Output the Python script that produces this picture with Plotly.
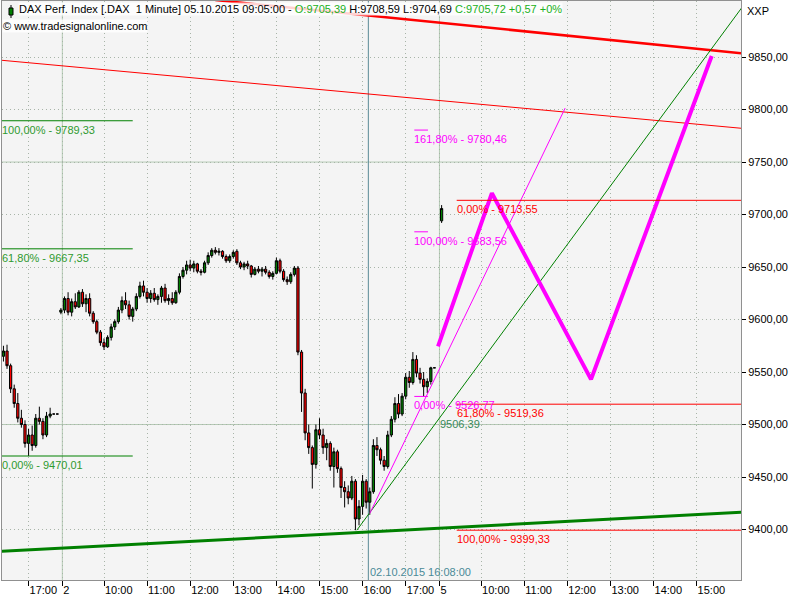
import plotly.graph_objects as go

# ---------------- time axis helpers (compressed trading time) ----------------
DAY_INDEX = {"10-01": 0, "10-02": 1, "10-05": 2}
SESSION_MIN = 525  # 09:00 - 17:45 per session


def tpos(stamp):
    day, hm = stamp.split()
    h, m = map(int, hm.split(":"))
    return DAY_INDEX[day] * SESSION_MIN + (h * 60 + m - 540)


def bar_times(day, start, n, step=5):
    h, m = map(int, start.split(":"))
    base = h * 60 + m
    return [f"{day} {(base + step * i) // 60:02d}:{(base + step * i) % 60:02d}" for i in range(n)]


# ---------------- candle data ----------------
oct1_open = [9565, 9570, 9556, 9534, 9520, 9506, 9500, 9482, 9490, 9480, 9506, 9503, 9490, 9508, 9510, 9510]
oct1_high = [9575, 9576, 9558, 9538, 9530, 9514, 9504, 9496, 9499, 9510, 9517, 9506, 9512, 9516, 9510, 9510]
oct1_low = [9560, 9553, 9530, 9516, 9502, 9497, 9478, 9470.01, 9475, 9478, 9500, 9486, 9488, 9506, 9510, 9510]
oct1_close = [9570, 9556, 9534, 9520, 9506, 9500, 9482, 9490, 9480, 9506, 9503, 9490, 9508, 9510, 9510, 9510]

oct2_open = [9607, 9609, 9620, 9607, 9617, 9612, 9626, 9615, 9620, 9606, 9598, 9588, 9578, 9574, 9583, 9593,
             9598, 9609, 9618, 9614, 9603, 9610, 9622, 9632, 9626, 9620, 9625, 9619, 9622, 9630, 9618, 9620,
             9616, 9626, 9641, 9647, 9652, 9649, 9653, 9646, 9645, 9654, 9661, 9666, 9664, 9665, 9660, 9656,
             9660, 9665, 9654, 9650, 9653, 9651, 9643, 9648, 9646, 9648, 9645, 9641, 9644, 9656, 9646, 9638,
             9636, 9643, 9649, 9569, 9530, 9492, 9478, 9462, 9495, 9490, 9478, 9482, 9460, 9474, 9458, 9440,
             9436, 9430, 9446, 9410, 9422, 9446, 9426, 9436, 9480, 9476, 9466, 9460, 9490, 9505, 9520, 9510,
             9527, 9545, 9540, 9562, 9549, 9543, 9536, 9541, 9554]
oct2_high = [9611, 9622, 9626, 9620, 9625, 9628, 9629, 9624, 9625, 9608, 9600, 9590, 9582, 9585, 9596, 9600,
             9612, 9622, 9626, 9618, 9612, 9625, 9636, 9637, 9630, 9628, 9630, 9624, 9632, 9634, 9624, 9626,
             9628, 9644, 9650, 9656, 9657, 9656, 9654, 9648, 9656, 9664, 9668, 9669, 9668, 9666, 9662, 9662,
             9666, 9667, 9656, 9655, 9656, 9652, 9650, 9651, 9650, 9651, 9647, 9646, 9659, 9658, 9648, 9641,
             9645, 9651, 9651, 9571, 9534, 9500, 9480, 9500, 9506, 9496, 9486, 9484, 9478, 9476, 9460, 9446,
             9442, 9451, 9448, 9428, 9452, 9448, 9440, 9486, 9488, 9478, 9470, 9494, 9508, 9526, 9529, 9530,
             9549, 9551, 9569, 9566, 9554, 9550, 9544, 9555, 9554]
oct2_low = [9605, 9606, 9604, 9603, 9610, 9611, 9612, 9607, 9603, 9596, 9586, 9575, 9571, 9573, 9580, 9590,
            9596, 9606, 9610, 9600, 9598, 9608, 9620, 9622, 9616, 9616, 9617, 9614, 9616, 9616, 9614, 9614,
            9615, 9624, 9639, 9643, 9646, 9645, 9644, 9642, 9644, 9652, 9659, 9662, 9661, 9658, 9654, 9654,
            9658, 9652, 9648, 9647, 9648, 9640, 9642, 9644, 9641, 9643, 9639, 9638, 9643, 9644, 9636, 9633,
            9634, 9641, 9566, 9512, 9485, 9472, 9439, 9458, 9486, 9472, 9466, 9456, 9440, 9454, 9430, 9421,
            9424, 9428, 9399.33, 9404, 9414, 9420, 9414, 9434, 9470, 9462, 9456, 9458, 9488, 9502, 9506, 9508,
            9524, 9535, 9538, 9545, 9539, 9526.77, 9530, 9538, 9554]
oct2_close = [9609, 9620, 9607, 9617, 9612, 9626, 9615, 9620, 9606, 9598, 9588, 9578, 9574, 9583, 9593, 9598,
              9609, 9618, 9614, 9603, 9610, 9622, 9632, 9626, 9620, 9625, 9619, 9622, 9630, 9618, 9620, 9616,
              9626, 9641, 9647, 9652, 9649, 9653, 9646, 9645, 9654, 9661, 9666, 9664, 9665, 9660, 9656, 9660,
              9664, 9654, 9650, 9653, 9651, 9643, 9648, 9646, 9648, 9645, 9641, 9644, 9656, 9646, 9638, 9636,
              9643, 9649, 9569, 9530, 9492, 9478, 9462, 9495, 9490, 9478, 9482, 9460, 9474, 9458, 9440, 9436,
              9430, 9446, 9410, 9422, 9446, 9426, 9436, 9480, 9476, 9466, 9460, 9490, 9505, 9520, 9510, 9527,
              9545, 9540, 9562, 9549, 9543, 9536, 9541, 9554, 9554]

oct5_open = [9694]
oct5_high = [9709]
oct5_low = [9692]
oct5_close = [9705.72]

candle_times = (bar_times("10-01", "16:25", len(oct1_open))
                + bar_times("10-02", "09:00", len(oct2_open))
                + bar_times("10-05", "09:05", len(oct5_open)))
candle_open = oct1_open + oct2_open + oct5_open
candle_high = oct1_high + oct2_high + oct5_high
candle_low = oct1_low + oct2_low + oct5_low
candle_close = oct1_close + oct2_close + oct5_close

# ---------------- drawing tools (trend lines, zigzag, fib levels) ----------------
red_thick_times = ["10-02 12:35", "10-05 16:05"]
red_thick_vals = [9904.3, 9853.5]
red_thin_times = ["10-01 16:20", "10-05 16:05"]
red_thin_vals = [9847.1, 9782.0]
green_thick_times = ["10-01 16:20", "10-05 16:05"]
green_thick_vals = [9379.1, 9416.5]
green_thin_times = ["10-02 15:52", "10-05 16:05"]
green_thin_vals = [9399.33, 9899.0]
magenta_thin_times = ["10-02 16:10", "10-05 11:57"]
magenta_thin_vals = [9415.3, 9801.4]
zigzag_times = ["10-05 09:00", "10-05 10:15", "10-05 12:33", "10-05 15:21"]
zigzag_vals = [9574.5, 9720.4, 9543.0, 9851.0]

green_fib_vals = [9789.33, 9667.35, 9470.01]
green_fib_text = ["100,00% - 9789,33", "61,80% - 9667,35", "0,00% - 9470,01"]
green_fib_span = ["10-01 16:20", "10-02 10:40"]

magenta_fib_vals = [9780.46, 9683.56, 9526.77]
magenta_fib_text = ["161,80% - 9780,46", "100,00% - 9683,56", "0,00% - 9526,77"]
magenta_fib_span = ["10-02 17:12", "10-02 17:31"]

red_fib_vals = [9713.55, 9519.36, 9399.33]
red_fib_text = ["0,00% - 9713,55", "61,80% - 9519,36", "100,00% - 9399,33"]
red_fib_span = ["10-05 09:26", "10-05 16:05"]

trend_value_time = "10-05 09:00"
trend_value = 9506.39
trend_value_text = "9506,39"

cursor_time = "10-02 16:08"
cursor_text = "02.10.2015 16:08:00"

major_levels = [9500, 9750]
day_starts = ["10-02 09:02", "10-05 09:02"]

# ---------------- axes ticks ----------------
x_tick_times = ["10-01 17:00", "10-02 09:02", "10-02 10:00", "10-02 11:00", "10-02 12:00", "10-02 13:00",
                "10-02 14:00", "10-02 15:00", "10-02 16:00", "10-02 17:00", "10-05 09:02", "10-05 10:00",
                "10-05 11:00", "10-05 12:00", "10-05 13:00", "10-05 14:00", "10-05 15:00"]
x_tick_text = ["17:00", "2", "10:00", "11:00", "12:00", "13:00", "14:00", "15:00", "16:00", "17:00", "5",
               "10:00", "11:00", "12:00", "13:00", "14:00", "15:00"]
y_tick_vals = [9400, 9450, 9500, 9550, 9600, 9650, 9700, 9750, 9800, 9850]
y_tick_text = ["9400,00", "9450,00", "9500,00", "9550,00", "9600,00", "9650,00", "9700,00", "9750,00",
               "9800,00", "9850,00"]

FONT = "Liberation Sans, Arial, sans-serif"
GREEN_TXT = "#2f9a2f"
MAGENTA = "#ff00ff"
RED = "#ff0000"

fig = go.Figure()

fig.add_trace(go.Candlestick(
    x=[tpos(s) for s in candle_times],
    open=candle_open, high=candle_high, low=candle_low, close=candle_close,
    increasing=dict(line=dict(color="black", width=1), fillcolor="#008000"),
    decreasing=dict(line=dict(color="black", width=1), fillcolor="#ff0000"),
    whiskerwidth=0, showlegend=False, hoverinfo="skip",
))


def add_line(times, vals, color, width):
    fig.add_trace(go.Scatter(x=[tpos(s) for s in times], y=vals, mode="lines",
                             line=dict(color=color, width=width), showlegend=False, hoverinfo="skip"))


add_line(red_thin_times, red_thin_vals, RED, 1)
add_line(red_thick_times, red_thick_vals, RED, 2.5)
add_line(green_thick_times, green_thick_vals, "#008000", 3)
add_line(green_thin_times, green_thin_vals, "#008000", 1)
add_line(magenta_thin_times, magenta_thin_vals, MAGENTA, 1)
add_line(zigzag_times, zigzag_vals, MAGENTA, 4)

for v in green_fib_vals:
    add_line(green_fib_span, [v, v], "#008000", 1)
for v in magenta_fib_vals:
    add_line(magenta_fib_span, [v, v], MAGENTA, 1)
for v in red_fib_vals:
    add_line(red_fib_span, [v, v], RED, 1)

annotations = []
for v, t in zip(green_fib_vals, green_fib_text):
    annotations.append(dict(x=0, xref="paper", y=v, yref="y", text=t, showarrow=False, xanchor="left",
                            yanchor="top", xshift=-2, yshift=-1, font=dict(color=GREEN_TXT, size=11, family=FONT)))
for v, t in zip(magenta_fib_vals, magenta_fib_text):
    annotations.append(dict(x=tpos(magenta_fib_span[0]), y=v, text=t, showarrow=False, xanchor="left",
                            yanchor="top", xshift=-2, yshift=-1, font=dict(color=MAGENTA, size=11, family=FONT)))
for v, t in zip(red_fib_vals, red_fib_text):
    annotations.append(dict(x=tpos(red_fib_span[0]), y=v, text=t, showarrow=False, xanchor="left",
                            yanchor="top", xshift=-2, yshift=-1, font=dict(color=RED, size=11, family=FONT)))

annotations.append(dict(x=tpos(trend_value_time), y=trend_value, text=trend_value_text, showarrow=False,
                        xanchor="left", yanchor="top", xshift=0, yshift=2,
                        font=dict(color="#3a8a5a", size=11, family=FONT)))
annotations.append(dict(x=tpos(cursor_time), y=0, yref="paper", text=cursor_text, showarrow=False,
                        xanchor="left", yanchor="bottom", xshift=0, yshift=0,
                        font=dict(color="#4a8a98", size=11, family=FONT)))

# header texts
title_html = ("DAX Perf. Index [.DAX\u00a0\u00a01 Minute] 05.10.2015 09:05:00 - "
              "<span style='color:#20b020'>O:9705,39</span> H:9708,59 L:9704,69 "
              "<span style='color:#20b020'>C:9705,72 +0,57 +0%</span>")
annotations.append(dict(x=16 / 739, xref="paper", y=1.0, yref="paper", text=title_html, showarrow=False,
                        xanchor="left", yanchor="top", yshift=-1, bgcolor="rgba(255,255,255,0.82)", borderpad=0,
                        font=dict(color="black", size=11, family=FONT)))
annotations.append(dict(x=0, xref="paper", y=1.0, yref="paper", text="\u00a9 www.tradesignalonline.com",
                        showarrow=False, xanchor="left", yanchor="top", yshift=-18,
                        bgcolor="rgba(255,255,255,0.82)", borderpad=0,
                        font=dict(color="black", size=11, family=FONT)))
annotations.append(dict(x=1.0, xref="paper", y=1.0, yref="paper", text="XXP", showarrow=False,
                        xanchor="left", yanchor="top", xshift=4, yshift=-2,
                        font=dict(color="black", size=11, family=FONT)))

shapes = []
for d in day_starts:
    shapes.append(dict(type="line", xref="x", yref="paper", x0=tpos(d), x1=tpos(d), y0=0, y1=1,
                       line=dict(color="#b4cab4", width=1), layer="between"))
for lv in major_levels:
    shapes.append(dict(type="line", xref="paper", yref="y", x0=0, x1=1, y0=lv, y1=lv,
                       line=dict(color="#b4cab4", width=1), layer="between"))
shapes.append(dict(type="line", xref="x", yref="paper", x0=tpos(cursor_time), x1=tpos(cursor_time), y0=0, y1=1,
                   line=dict(color="#5a8a96", width=1), layer="between"))
# small candle icon in header
shapes.append(dict(type="line", xref="paper", yref="paper", x0=9 / 739, x1=9 / 739, y0=1 - 4 / 579,
                   y1=1 - 17 / 579, line=dict(color="black", width=1), layer="above"))
shapes.append(dict(type="rect", xref="paper", yref="paper", x0=7 / 739, x1=11 / 739, y0=1 - 7 / 579,
                   y1=1 - 14 / 579, fillcolor="#008000", line=dict(color="black", width=1), layer="above"))

grid_dash = "1px,3px"
fig.update_layout(
    width=800, height=600,
    margin=dict(l=2, r=59, t=1, b=20),
    paper_bgcolor="white", plot_bgcolor="#f4f4f4",
    font=dict(family=FONT, size=11, color="black"),
    showlegend=False, boxgap=0.12, hovermode=False,
    annotations=annotations, shapes=shapes,
    xaxis=dict(
        range=[443.0, 1471.8], rangeslider=dict(visible=False),
        tickmode="array", tickvals=[tpos(s) for s in x_tick_times], ticktext=x_tick_text,
        ticks="outside", ticklen=5, tickcolor="black", ticklabelposition="outside right",
        showgrid=True, gridcolor="#a8b4a8", griddash=grid_dash, gridwidth=1,
        showline=True, linecolor="#909090", mirror=True, zeroline=False,
        tickfont=dict(size=11, family=FONT, color="black"),
    ),
    yaxis=dict(
        range=[9351.9, 9903.4], side="right",
        tickmode="array", tickvals=y_tick_vals, ticktext=y_tick_text,
        ticks="outside", ticklen=4, tickcolor="black",
        showgrid=True, gridcolor="#a8b4a8", griddash=grid_dash, gridwidth=1,
        showline=True, linecolor="#909090", mirror=True, zeroline=False,
        tickfont=dict(size=11, family=FONT, color="black"),
    ),
)

fig.write_html("out.html", config={"displayModeBar": False},
               post_script="document.body.style.margin='0px';")
